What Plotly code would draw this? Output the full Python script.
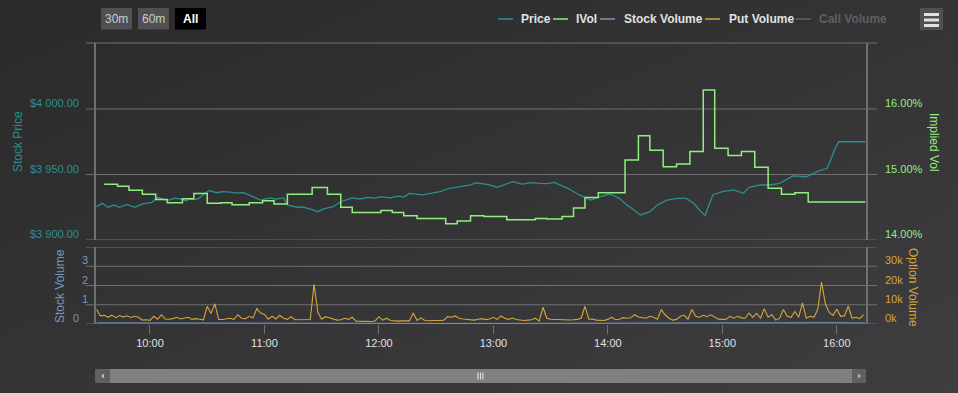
import base64
import pandas as pd
import plotly.graph_objects as go

DAY = "2024-01-02 "

# ---------------- data ----------------
price_times = ["09:32", "09:35", "09:38", "09:41", "09:44", "09:48", "09:52", "09:56", "10:01", "10:04",
               "10:07", "10:10", "10:13", "10:16", "10:19", "10:21", "10:24", "10:26", "10:29", "10:31",
               "10:35", "10:38", "10:42", "10:45", "10:49", "10:52", "10:55", "10:58", "11:03", "11:06",
               "11:10", "11:12", "11:17", "11:20", "11:24", "11:28", "11:31", "11:36", "11:40", "11:43",
               "11:46", "11:50", "11:54", "11:58", "12:01", "12:06", "12:10", "12:13", "12:16", "12:23",
               "12:27", "12:32", "12:37", "12:44", "12:48", "12:51", "12:55", "12:58", "13:02", "13:06",
               "13:10", "13:15", "13:20", "13:24", "13:28", "13:32", "13:36", "13:40", "13:45", "13:49",
               "13:51", "13:56", "14:01", "14:06", "14:10", "14:14", "14:17", "14:22", "14:26", "14:31",
               "14:36", "14:41", "14:45", "14:48", "14:51", "14:52", "14:55", "15:00", "15:06", "15:11",
               "15:14", "15:20", "15:25", "15:30", "15:37", "15:44", "15:51", "15:55", "15:57", "15:59",
               "16:01", "16:15"]
price_values = [3925.4, 3928.0, 3925.0, 3926.7, 3925.0, 3927.2, 3925.0, 3927.5, 3928.8, 3932.6,
                3931.0, 3930.5, 3932.0, 3931.3, 3930.0, 3931.3, 3930.8, 3932.1, 3935.9, 3937.6,
                3936.1, 3937.0, 3936.6, 3935.8, 3936.1, 3934.4, 3932.5, 3930.5, 3932.1, 3931.2,
                3932.1, 3926.7, 3925.0, 3925.2, 3923.5, 3921.6, 3923.7, 3925.4, 3929.2, 3930.5,
                3932.1, 3931.3, 3932.6, 3932.0, 3933.1, 3932.1, 3933.5, 3932.8, 3935.6, 3934.4,
                3935.5, 3936.9, 3939.5, 3941.2, 3942.0, 3943.7, 3943.0, 3942.0, 3940.2, 3942.5,
                3944.5, 3942.7, 3943.8, 3943.3, 3943.0, 3944.0, 3941.5, 3938.7, 3934.4, 3932.0,
                3930.5, 3933.1, 3935.1, 3931.8, 3926.7, 3922.5, 3919.1, 3921.6, 3926.7, 3930.5,
                3931.8, 3931.8, 3928.0, 3922.9, 3918.6, 3922.9, 3934.4, 3936.9, 3938.2, 3935.6,
                3940.2, 3942.0, 3942.0, 3943.3, 3948.9, 3948.3, 3952.9, 3954.7, 3962.4, 3969.5,
                3975.0, 3975.0]

ivol_times = ["09:36", "09:43", "09:49", "09:56", "10:03", "10:09", "10:17", "10:23", "10:30", "10:37",
              "10:43", "10:52", "10:59", "11:05", "11:12", "11:25", "11:33", "11:40", "11:46", "12:01",
              "12:07", "12:13", "12:20", "12:35", "12:41", "12:48", "12:55", "13:07", "13:22", "13:28",
              "13:36", "13:42", "13:48", "13:55", "14:09", "14:16", "14:22", "14:29", "14:36", "14:43",
              "14:50", "14:56", "15:03", "15:10", "15:17", "15:24", "15:31", "15:38", "15:45", "16:15"]
ivol_values = [14.85, 14.82, 14.76, 14.70, 14.62, 14.57, 14.63, 14.71, 14.56, 14.57,
               14.54, 14.57, 14.60, 14.55, 14.70, 14.80, 14.70, 14.50, 14.42, 14.45,
               14.42, 14.37, 14.33, 14.25, 14.29, 14.37, 14.36, 14.31, 14.33, 14.32,
               14.36, 14.49, 14.65, 14.72, 15.22, 15.59, 15.37, 15.12, 15.16, 15.35,
               16.29, 15.40, 15.29, 15.35, 15.11, 14.79, 14.70, 14.72, 14.58, 14.58]

stock_vol_times = ["09:32", "10:00", "10:30", "11:00", "11:30", "12:00", "12:30", "13:00",
                   "13:30", "14:00", "14:30", "15:00", "15:30", "16:00", "16:15"]
stock_vol_values = [0.06, 0.05, 0.04, 0.05, 0.03, 0.04, 0.03, 0.03,
                    0.04, 0.05, 0.04, 0.05, 0.06, 0.07, 0.05]

put_start = "09:32"          # one reading every 2 minutes
put_volume_k = [7.5, 4.2, 4.5, 3.5, 4.6, 3.3, 4.4, 3.6, 4.3, 3.4,
                4.0, 3.5, 2.0, 2.2, 1.9, 4.0, 2.5, 4.8, 2.6, 2.5,
                2.8, 3.5, 2.6, 3.2, 3.5, 2.4, 2.8, 2.5, 2.2, 9.2,
                5.5, 10.5, 2.3, 2.3, 2.6, 3.0, 2.4, 4.8, 3.0, 2.8,
                4.0, 3.2, 8.0, 5.7, 5.0, 2.5, 4.0, 2.6, 4.5, 3.0,
                2.4, 3.8, 2.2, 2.3, 2.1, 2.2, 2.3, 20.6, 6.0, 2.5,
                3.8, 3.2, 2.4, 2.0, 2.2, 3.0, 2.4, 3.5, 1.5, 1.4,
                1.2, 1.2, 1.3, 1.6, 3.8, 2.0, 3.0, 1.8, 1.5, 1.5,
                1.6, 1.5, 1.6, 5.7, 1.8, 3.2, 1.8, 1.7, 1.9, 1.8,
                1.8, 2.0, 3.8, 3.5, 4.2, 3.0, 2.6, 2.5, 2.4, 2.0,
                2.5, 2.8, 2.3, 2.6, 3.5, 2.4, 4.2, 3.0, 2.4, 3.1,
                2.3, 2.0, 1.8, 2.0, 2.2, 3.0, 1.5, 8.7, 3.0, 2.5,
                2.4, 2.2, 2.2, 2.3, 2.1, 2.2, 2.4, 3.0, 9.2, 2.5,
                2.6, 2.0, 2.0, 1.8, 2.4, 3.5, 2.2, 2.5, 3.3, 3.0,
                3.2, 4.8, 3.6, 3.2, 3.0, 4.0, 3.5, 2.5, 7.5, 4.8,
                3.0, 2.0, 2.4, 4.0, 4.5, 2.5, 7.5, 4.0, 3.5, 4.5,
                3.8, 4.8, 3.5, 2.5, 2.4, 2.5, 4.0, 3.0, 4.0, 3.2,
                3.0, 5.7, 3.5, 5.5, 3.0, 8.0, 3.5, 4.8, 2.0, 3.0,
                7.5, 4.0, 3.5, 6.5, 3.5, 11.0, 3.0, 4.0, 3.5, 7.5,
                21.8, 10.5, 6.0, 4.5, 7.8, 4.0, 4.2, 9.2, 3.0, 3.5,
                2.8, 4.8]

price_ticks = [3900, 3950, 4000]
price_labels = ["$3 900.00", "$3 950.00", "$4 000.00"]
ivol_ticks = [14, 15, 16]
ivol_labels = ["14.00%", "15.00%", "16.00%"]
svol_ticks = [0, 1, 2, 3]
svol_labels = ["0", "1", "2", "3"]
ovol_ticks = [0, 10000, 20000, 30000]
ovol_labels = ["0k", "10k", "20k", "30k"]

legend_names = ["Price", "IVol", "Stock Volume", "Put Volume", "Call Volume"]
range_buttons = ["30m", "60m", "All"]

# ---------------- styling ----------------
C_PRICE = "#2b908f"
C_IVOL = "#90ee7e"
C_SVOL = "#7798BF"
C_PUT = "#d6a63a"
C_HIDDEN = "#606063"
C_GRID = "#707073"
C_TEXT = "#E0E0E3"
FONT = "Liberation Sans, Arial, sans-serif"

W_FIG, H_FIG = 958, 393
L, R, T, B = 96, 866, 43, 324
PW, PH = R - L, B - T


def px(x):
    return (x - L) / PW


def py(y):
    return (B - y) / PH


def dt(t):
    return DAY + t


price_x = [dt(t) for t in price_times]
ivol_x = [dt(t) for t in ivol_times]
svol_x = [dt(t) for t in stock_vol_times]
put_x = pd.date_range(dt(put_start), periods=len(put_volume_k), freq="2min")
put_y = [v * 1000 for v in put_volume_k]

x_range = [DAY + "09:31:42", DAY + "16:15:18"]
price_range = [3900, 3900 + 197 / 1.31]
ivol_range = [14, 14 + 197 / 65.5]

fig = go.Figure()
fig.add_trace(go.Scatter(x=price_x, y=price_values, mode="lines", name="Price",
                         line=dict(color=C_PRICE, width=1.3), xaxis="x", yaxis="y"))
fig.add_trace(go.Scatter(x=ivol_x, y=ivol_values, mode="lines", name="IVol",
                         line=dict(color=C_IVOL, width=1.5, shape="hv"), xaxis="x", yaxis="y2"))
fig.add_trace(go.Scatter(x=svol_x, y=stock_vol_values, mode="lines", name="Stock Volume",
                         line=dict(color=C_SVOL, width=1), xaxis="x2", yaxis="y3"))
fig.add_trace(go.Scatter(x=put_x, y=put_y, mode="lines", name="Put Volume",
                         line=dict(color=C_PUT, width=1.1), xaxis="x2", yaxis="y4"))

top_dom = [py(240), 1]
bot_dom = [0, py(247)]

yax_common = dict(showgrid=False, zeroline=False, showticklabels=False, ticks="",
                  showline=True, linecolor=C_GRID, linewidth=2, fixedrange=True)

fig.update_layout(
    width=W_FIG, height=H_FIG, autosize=False,
    margin=dict(l=L, r=W_FIG - R, t=T, b=H_FIG - B, pad=0),
    paper_bgcolor="#2a2a2b", plot_bgcolor="rgba(0,0,0,0)",
    showlegend=False,
    font=dict(family=FONT, color=C_TEXT, size=11),
    xaxis=dict(domain=[0, 1], anchor="y", type="date", range=x_range, matches="x2",
               showticklabels=False, showgrid=False, zeroline=False, showline=False, ticks=""),
    xaxis2=dict(domain=[0, 1], anchor="y3", type="date", range=x_range,
                tickformat="%H:%M", dtick=3600000, tick0=DAY + "10:00",
                ticks="outside", ticklen=9, tickcolor=C_GRID, tickwidth=1,
                tickfont=dict(color=C_TEXT, size=11, family=FONT),
                showgrid=False, zeroline=False, showline=False),
    yaxis=dict(domain=top_dom, anchor="x", range=price_range, **yax_common),
    yaxis2=dict(overlaying="y", side="right", anchor="x", range=ivol_range, **yax_common),
    yaxis3=dict(domain=bot_dom, anchor="x2", range=[0, 4], **yax_common),
    yaxis4=dict(overlaying="y3", side="right", anchor="x2", range=[0, 40000], **yax_common),
)

# background gradient
svg = ('<svg xmlns="http://www.w3.org/2000/svg" width="958" height="393" viewBox="0 0 958 393" '
       'preserveAspectRatio="none"><defs><linearGradient id="g" x1="0" y1="0" x2="1" y2="1">'
       '<stop offset="0" stop-color="#2a2a2b"/><stop offset="1" stop-color="#3e3e40"/>'
       '</linearGradient></defs><rect width="958" height="393" fill="url(#g)"/></svg>')
src = "data:image/svg+xml;base64," + base64.b64encode(svg.encode()).decode()
fig.add_layout_image(dict(source=src, xref="paper", yref="paper", x=px(0), y=py(0),
                          sizex=W_FIG / PW, sizey=H_FIG / PH, xanchor="left", yanchor="top",
                          sizing="stretch", layer="below"))

shapes = []
# extended grid lines
for v in [3900, 3950, 4000]:
    shapes.append(dict(type="line", xref="paper", yref="y", x0=px(86), x1=px(877), y0=v, y1=v,
                       line=dict(color=C_GRID, width=1), layer="below"))
shapes.append(dict(type="line", xref="paper", yref="paper", x0=px(86), x1=px(877), y0=1, y1=1,
                   line=dict(color=C_GRID, width=1), layer="below"))
for v in [0, 10000, 20000, 30000, 40000]:
    shapes.append(dict(type="line", xref="paper", yref="y4", x0=px(86), x1=px(877), y0=v, y1=v,
                       line=dict(color=C_GRID, width=1), layer="below"))

annotations = []
for v, lab in zip(price_ticks, price_labels):
    annotations.append(dict(text=lab, xref="paper", yref="y", x=px(81), y=v, xanchor="right",
                            yanchor="middle", yshift=6, showarrow=False,
                            font=dict(color=C_PRICE, size=11, family=FONT)))
for v, lab in zip(ivol_ticks, ivol_labels):
    annotations.append(dict(text=lab, xref="paper", yref="y2", x=px(883), y=v, xanchor="left",
                            yanchor="middle", yshift=6, showarrow=False,
                            font=dict(color=C_IVOL, size=11, family=FONT)))
for v, lab in zip(svol_ticks, svol_labels):
    annotations.append(dict(text=lab, xref="paper", yref="y3", x=px(81 if v == 0 else 90), y=v,
                            xanchor="right", yanchor="middle", yshift=6, showarrow=False,
                            font=dict(color=C_SVOL, size=11, family=FONT)))
for v, lab in zip(ovol_ticks, ovol_labels):
    annotations.append(dict(text=lab, xref="paper", yref="y4", x=px(883), y=v, xanchor="left",
                            yanchor="middle", yshift=6, showarrow=False,
                            font=dict(color=C_PUT, size=11, family=FONT)))

# axis titles
for text, x, y, ang, col in [("Stock Price", 18, 142, -90, C_PRICE),
                             ("Implied Vol", 934, 142, 90, C_IVOL),
                             ("Stock Volume", 60, 286, -90, C_SVOL),
                             ("Option Volume", 913, 287, 90, C_PUT)]:
    annotations.append(dict(text=text, xref="paper", yref="paper", x=px(x), y=py(y),
                            xanchor="center", yanchor="middle", textangle=ang, showarrow=False,
                            font=dict(color=col, size=12, family=FONT)))

# legend (drawn manually to match the compact layout)
leg_line_x = [498, 553, 600, 705, 796]
leg_text_x = [519, 574, 622, 727, 817]
leg_colors = [C_PRICE, C_IVOL, C_SVOL, C_PUT, C_HIDDEN]
for name, lx, tx, col in zip(legend_names, leg_line_x, leg_text_x, leg_colors):
    shapes.append(dict(type="line", xref="paper", yref="paper", x0=px(lx), x1=px(lx + 15),
                       y0=py(19), y1=py(19), line=dict(color=col, width=1.5)))
    annotations.append(dict(text="<b>" + name + "</b>", xref="paper", yref="paper", x=px(tx), y=py(19),
                            xanchor="left", yanchor="middle", showarrow=False,
                            font=dict(color=C_HIDDEN if name == "Call Volume" else C_TEXT,
                                      size=12, family=FONT)))

# range selector buttons
for lab, x0 in zip(range_buttons, [101, 138, 175]):
    sel = lab == "All"
    shapes.append(dict(type="rect", xref="paper", yref="paper", x0=px(x0), x1=px(x0 + 31),
                       y0=py(8), y1=py(29.5), fillcolor="#000003" if sel else "#505053",
                       line=dict(width=0)))
    annotations.append(dict(text=("<b>" + lab + "</b>") if sel else lab, xref="paper", yref="paper",
                            x=px(x0 + 15.5), y=py(19), xanchor="center", yanchor="middle",
                            showarrow=False,
                            font=dict(color="#FFFFFF" if sel else "#CCCCCC", size=12, family=FONT)))

# context menu button
shapes.append(dict(type="rect", xref="paper", yref="paper", x0=px(920), x1=px(943),
                   y0=py(8), y1=py(30), fillcolor="#505053", line=dict(width=0)))
for yy in [14.5, 20, 25.5]:
    shapes.append(dict(type="line", xref="paper", yref="paper", x0=px(924), x1=px(939),
                       y0=py(yy), y1=py(yy), line=dict(color=C_TEXT, width=3)))

# scrollbar
shapes.append(dict(type="rect", xref="paper", yref="paper", x0=px(95), x1=px(866), y0=py(369),
                   y1=py(383), fillcolor="#404043", line=dict(width=0)))
shapes.append(dict(type="rect", xref="paper", yref="paper", x0=px(110), x1=px(852), y0=py(369),
                   y1=py(383), fillcolor="#808083", line=dict(width=0)))
for a, b in [(95, 110), (852, 866)]:
    shapes.append(dict(type="rect", xref="paper", yref="paper", x0=px(a), x1=px(b), y0=py(369),
                       y1=py(383), fillcolor="#606063", line=dict(width=0)))
shapes.append(dict(type="path", xref="paper", yref="paper",
                   path=f"M {px(104)} {py(373.5)} L {px(101)} {py(376)} L {px(104)} {py(378.5)} Z",
                   fillcolor="#BBBBBB", line=dict(width=0)))
shapes.append(dict(type="path", xref="paper", yref="paper",
                   path=f"M {px(858)} {py(373.5)} L {px(861)} {py(376)} L {px(858)} {py(378.5)} Z",
                   fillcolor="#BBBBBB", line=dict(width=0)))
for gx in [478, 480.5, 483]:
    shapes.append(dict(type="line", xref="paper", yref="paper", x0=px(gx), x1=px(gx),
                       y0=py(372.5), y1=py(379.5), line=dict(color="#DDDDDD", width=1.2)))

fig.update_layout(shapes=shapes, annotations=annotations)

fig.write_html("out.html", config={"displayModeBar": False},
               post_script="document.body.style.margin='0';document.body.style.background='#2a2a2b';")
